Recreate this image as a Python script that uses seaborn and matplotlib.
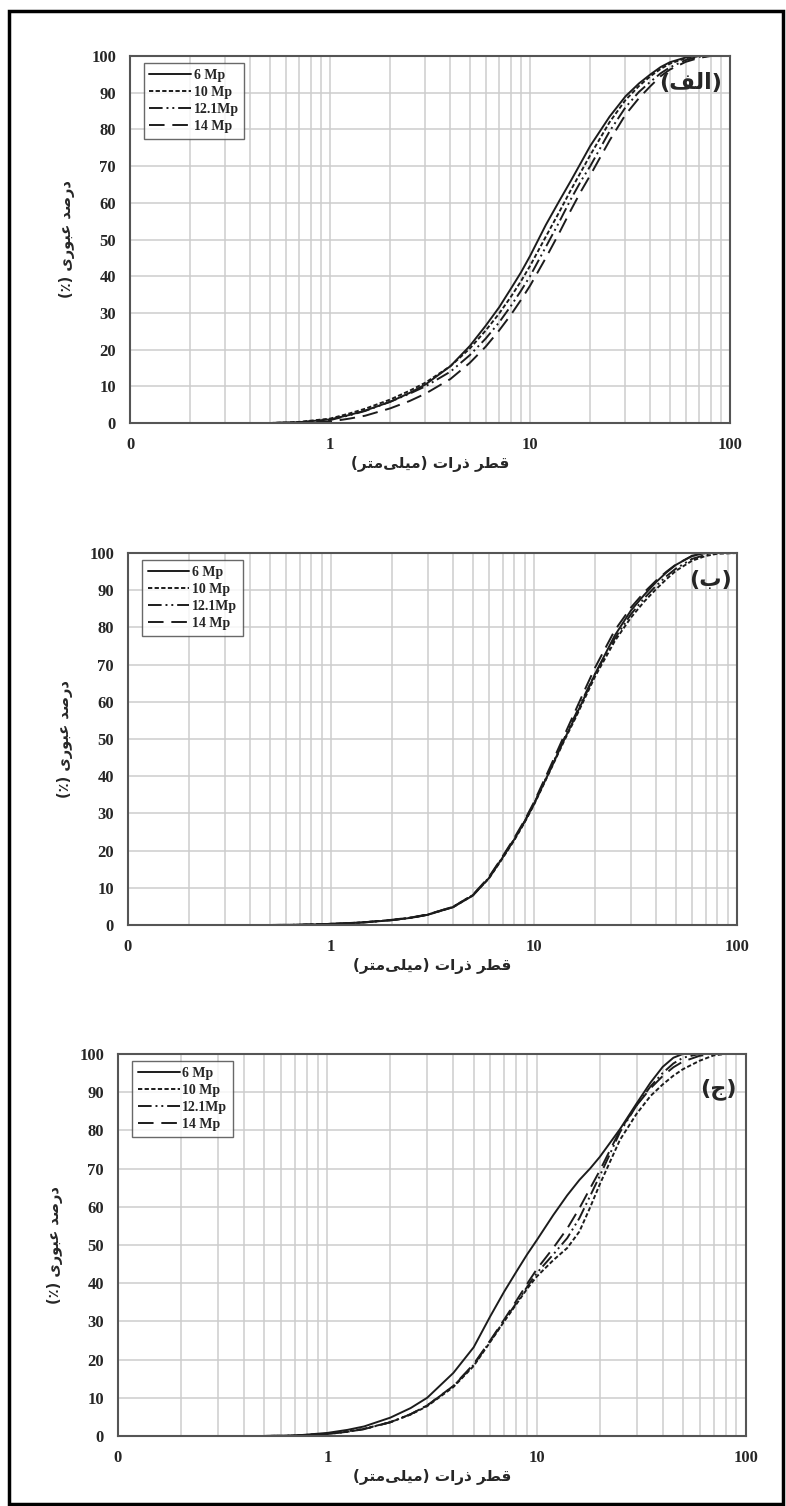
import matplotlib
matplotlib.use('Agg')
import matplotlib.pyplot as plt
import matplotlib.ticker as mticker
from matplotlib.patches import Rectangle
import pandas as pd
import seaborn as sns

# particle size (mm), shared by every curve
sizes = [0.5, 0.7, 1, 1.25, 1.5, 2, 2.5, 3, 4, 5, 6, 7, 8, 9, 10,
         12, 14, 16, 18, 20, 25, 30, 35, 40, 45, 50, 60, 70, 80, 100]
cameras = ['6 Mp', '10 Mp', '12.1Mp', '14 Mp']

# panel (الف) - percent passing
a_6mp = [0, 0.2, 1, 2.2, 3.4, 5.8, 8.2, 10.5, 15.5, 21, 26.5, 31.5, 36.5, 41, 45.5,
         54, 60.5, 66, 71, 75.5, 83.5, 89, 92.5, 95, 97, 98.3, 99.6, 100, 100, 100]
a_10mp = [0, 0.3, 1.2, 2.6, 3.9, 6.4, 8.8, 11, 15.5, 20.3, 25.2, 29.8, 34.3, 38.6, 42.8,
          50.8, 57.5, 63.5, 68.5, 73, 82, 88, 91.8, 94.5, 96.5, 97.9, 99.4, 100, 100, 100]
a_12mp = [0, 0.2, 0.8, 2.1, 3.3, 5.8, 8, 10, 14, 18.5, 23, 27.4, 31.8, 36, 40,
          48, 54.8, 61, 66, 70, 79.5, 86, 90.2, 93, 95.3, 96.9, 98.9, 99.8, 100, 100]
a_14mp = [0, 0.1, 0.4, 1.2, 2, 4, 6, 8, 12, 16.4, 20.8, 25.2, 29.4, 33.5, 37.4,
          45, 51.8, 58, 63.2, 67.5, 77, 84, 88.5, 91.8, 94.5, 96.3, 98.4, 99.5, 100, 100]

# panel (ب)
b_6mp = [0, 0.05, 0.3, 0.5, 0.75, 1.3, 1.95, 2.75, 4.8, 7.9, 12.6, 18.1, 23, 27.8, 32.5,
         41.6, 49.5, 56, 62, 67.5, 77.8, 84.5, 88.8, 92.2, 94.8, 96.8, 99.2, 100, 100, 100]
b_10mp = [0, 0.05, 0.3, 0.5, 0.8, 1.35, 2, 2.8, 4.9, 8, 12.5, 17.9, 22.8, 27.6, 32.3,
          41.4, 49.2, 55.6, 61.5, 66.8, 76.3, 82.6, 87, 90.3, 93, 95.2, 97.9, 99.2, 99.8, 100]
b_12mp = [0, 0.05, 0.3, 0.5, 0.75, 1.3, 1.95, 2.75, 4.8, 8, 12.7, 18.2, 23.1, 27.9, 32.6,
          41.8, 49.8, 56.5, 62.4, 67.5, 77, 83.5, 87.9, 91.2, 93.8, 95.8, 98.4, 99.5, 100, 100]
b_14mp = [0, 0.05, 0.3, 0.55, 0.8, 1.4, 2.05, 2.85, 4.9, 8.1, 12.9, 18.4, 23.4, 28.2, 33,
          42.4, 50.6, 57.6, 63.8, 69.2, 79.2, 85.3, 89.5, 92.6, 95, 96.9, 99.2, 100, 100, 100]

# panel (ج)
c_6mp = [0, 0.1, 0.8, 1.6, 2.5, 4.8, 7.3, 10, 16.5, 23.2, 31.3, 37.8, 43, 47.5, 51.2,
         57.8, 63, 67, 70, 73, 80.3, 87, 92.5, 96.6, 99, 100, 100, 100, 100, 100]
c_10mp = [0, 0.1, 0.6, 1.2, 1.9, 3.6, 5.6, 7.8, 12.8, 18.3, 24.6, 30, 34.5, 38.5, 41.7,
          46, 49.2, 53.5, 59.8, 65.8, 77.5, 84.3, 89, 92, 94.3, 96, 98.2, 99.6, 100, 100]
c_12mp = [0, 0.1, 0.5, 1.1, 1.8, 3.6, 5.7, 8, 13, 18.6, 24.8, 30.2, 34.8, 39, 42.6,
          47.5, 51.8, 57, 62.8, 68, 79.5, 86.5, 91.5, 95, 97.5, 99, 100, 100, 100, 100]
c_14mp = [0, 0.1, 0.5, 1.1, 1.8, 3.6, 5.7, 8, 13.1, 18.8, 25, 30.5, 35.4, 39.8, 43.6,
          49.2, 54.3, 59.6, 64.8, 69.4, 80, 86.5, 91, 94.2, 96.5, 98, 99.5, 100, 100, 100]

panel_tags = ['(الف)', '(ب)', '(ج)']
x_title = 'قطر ذرات (میلی\u200cمتر)'
y_title = 'درصد عبوری (٪)'

# presentation forms: isolated, final, initial, medial
FORMS = {
    'ا': ('\ufe8d', '\ufe8e', None, None),
    'ب': ('\ufe8f', '\ufe90', '\ufe91', '\ufe92'),
    'ت': ('\ufe95', '\ufe96', '\ufe97', '\ufe98'),
    'ج': ('\ufe9d', '\ufe9e', '\ufe9f', '\ufea0'),
    'د': ('\ufea9', '\ufeaa', None, None),
    'ذ': ('\ufeab', '\ufeac', None, None),
    'ر': ('\ufead', '\ufeae', None, None),
    'ص': ('\ufeb9', '\ufeba', '\ufebb', '\ufebc'),
    'ط': ('\ufec1', '\ufec2', '\ufec3', '\ufec4'),
    'ع': ('\ufec9', '\ufeca', '\ufecb', '\ufecc'),
    'ف': ('\ufed1', '\ufed2', '\ufed3', '\ufed4'),
    'ق': ('\ufed5', '\ufed6', '\ufed7', '\ufed8'),
    'ل': ('\ufedd', '\ufede', '\ufedf', '\ufee0'),
    'م': ('\ufee1', '\ufee2', '\ufee3', '\ufee4'),
    'و': ('\ufeed', '\ufeee', None, None),
    'ی': ('\ufbfc', '\ufbfd', '\ufbfe', '\ufbff'),
}


def fa(text):
    # join letters and flip to visual order, matplotlib has no bidi
    out = []
    for i, ch in enumerate(text):
        if ch not in FORMS:
            out.append(ch)
            continue
        iso, fin, ini, med = FORMS[ch]
        prev = text[i - 1] if i > 0 else ''
        nxt = text[i + 1] if i + 1 < len(text) else ''
        jp = prev in FORMS and FORMS[prev][2] is not None
        jn = ini is not None and nxt in FORMS
        if jp and jn:
            out.append(med)
        elif jp:
            out.append(fin)
        elif jn:
            out.append(ini)
        else:
            out.append(iso)
    vis = ''.join(out).replace('\u200c', '')[::-1]
    return vis.translate(str.maketrans('()', ')('))


sns.set_style('white')
plt.rcParams['font.family'] = ['Liberation Serif', 'DejaVu Sans']
plt.rcParams['font.weight'] = 'bold'

styles = ['-', (0, (2.2, 1.2)), (0, (7, 2, 1, 2, 1, 2)), (0, (8, 4))]
line_color = '#1c1c1c'

fig = plt.figure(figsize=(7.86, 15.06), dpi=100)
boxes = [
    [0.1654, 0.7191, 0.7634, 0.2437],
    [0.1628, 0.3858, 0.7748, 0.2470],
    [0.1501, 0.0465, 0.7990, 0.2537],
]
tag_pos = [(0.987, 0.926), (0.991, 0.927), (0.985, 0.908)]
panels = [
    [a_6mp, a_10mp, a_12mp, a_14mp],
    [b_6mp, b_10mp, b_12mp, b_14mp],
    [c_6mp, c_10mp, c_12mp, c_14mp],
]

for k, series in enumerate(panels):
    ax = fig.add_axes(boxes[k])
    for name, vals, ls in zip(cameras, series, styles):
        df = pd.DataFrame({'d': sizes, 'p': vals})
        sns.lineplot(data=df, x='d', y='p', ax=ax, color=line_color,
                     linewidth=1.4, linestyle=ls, label=name)
    ax.set_xscale('log')
    ax.set_xlim(0.1, 100)
    ax.set_ylim(0, 100)
    ax.set_yticks(range(0, 101, 10))
    ax.xaxis.set_major_locator(mticker.FixedLocator([0.1, 1, 10, 100]))
    ax.xaxis.set_major_formatter(mticker.FixedFormatter(['0', '1', '10', '100']))
    ax.xaxis.set_minor_locator(mticker.LogLocator(base=10, subs=range(2, 10)))
    ax.xaxis.set_minor_formatter(mticker.NullFormatter())
    ax.set_axisbelow(True)
    ax.grid(True, which='both', axis='x', color='#cdcdcd', linewidth=1.1)
    ax.grid(True, which='major', axis='y', color='#cdcdcd', linewidth=1.1)
    ax.tick_params(which='major', length=4, width=1, color='#999999',
                   labelsize=12, pad=6)
    ax.tick_params(which='minor', length=0)
    for lab in ax.get_xticklabels() + ax.get_yticklabels():
        lab.set_fontweight('bold')
    for sp in ax.spines.values():
        sp.set_color('#555555')
        sp.set_linewidth(1.5)
    ax.set_xlabel(fa(x_title), family=['DejaVu Sans'], fontweight='bold',
                  fontsize=11, labelpad=2)
    ax.set_ylabel(fa(y_title), family=['DejaVu Sans'], fontweight='bold',
                  fontsize=10.5, labelpad=12)
    leg = ax.legend(loc='upper left', bbox_to_anchor=(0.023, 0.981),
                    borderaxespad=0, frameon=True, fancybox=False,
                    handlelength=3.0, handletextpad=0.2, labelspacing=0.3,
                    borderpad=0.4, prop={'family': 'Liberation Serif',
                                         'weight': 'bold', 'size': 10})
    leg.get_frame().set_edgecolor('#444444')
    leg.get_frame().set_linewidth(1.0)
    ax.text(tag_pos[k][0], tag_pos[k][1], fa(panel_tags[k]),
            transform=ax.transAxes, ha='right', va='center',
            family=['DejaVu Sans'], fontweight='bold', fontsize=16)

fig.patches.append(Rectangle((0.0115, 0.0015), 0.9847, 0.9912,
                             transform=fig.transFigure, fill=False,
                             edgecolor='black', linewidth=2.5))

fig.savefig('out.png', dpi=100)
